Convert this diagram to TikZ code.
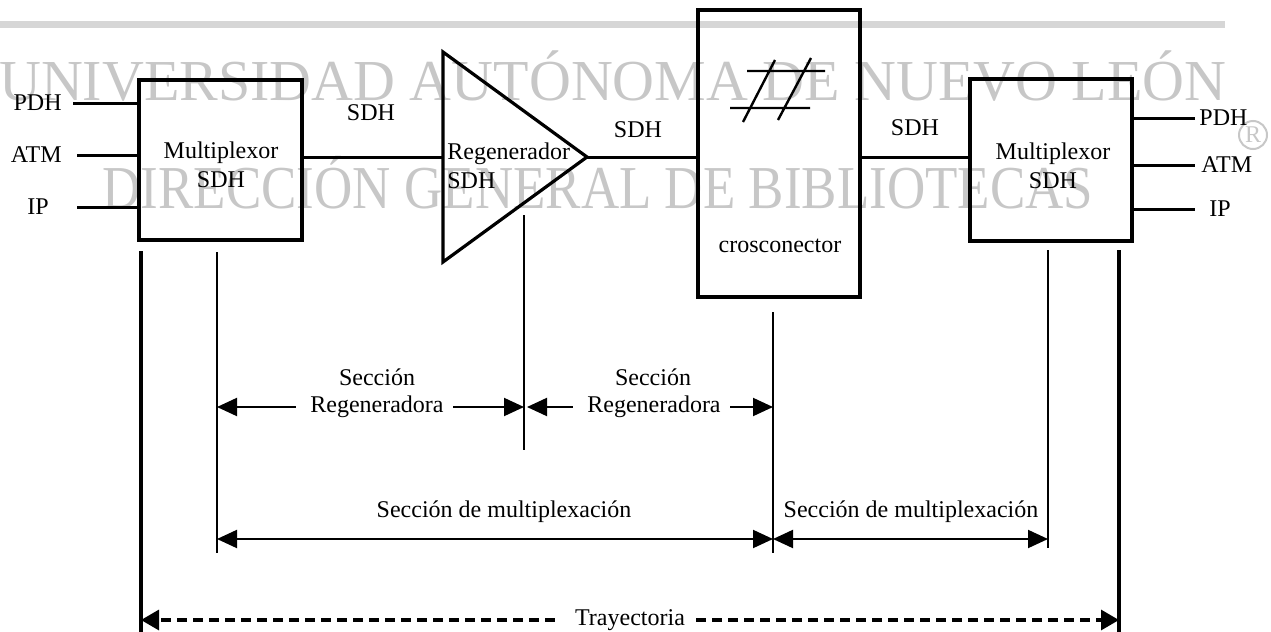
\documentclass[tikz,border=0pt]{standalone}
\usepackage{fontspec}
\setmainfont{Liberation Serif}
\usetikzlibrary{arrows.meta}
\tikzstyle{block}=[draw, line width=1.6pt, inner sep=0pt, align=center, font=\fontsize{12}{14.5}\selectfont]
\tikzstyle{lbl}=[inner sep=1pt, font=\fontsize{12}{14.5}\selectfont]
\tikzstyle{wmark}=[text=black!22, inner sep=0pt, anchor=base]
\tikzstyle{link}=[line width=1.5pt]
\tikzstyle{dimline}=[line width=1.3pt]
\tikzstyle{dimarrow}=[line width=1pt, -{Triangle[length=10pt, width=9pt]}]
\tikzstyle{dimboth}=[line width=1pt, {Triangle[length=10pt, width=9pt]}-{Triangle[length=10pt, width=9pt]}]
\tikzstyle{trayarrow}=[line width=1.6pt, dash pattern=on 5pt off 3pt, -{Triangle[length=9pt, width=10pt]}]

\begin{document}
\begin{tikzpicture}[x=0.5pt, y=-0.5pt]
    \useasboundingbox (0,0) rectangle (1271,632);
    % watermark of the scan
    \fill[black!16] (0,21) rectangle (1225,28);
    \node[wmark, font=\fontsize{29}{30}\selectfont] (wm1) at (613,100) {UNIVERSIDAD AUTÓNOMA DE NUEVO LEÓN};
    \node[wmark, font=\fontsize{26.5}{28}\selectfont] (wm2) at (598,208) {\scalebox{1}[1.15]{DIRECCIÓN GENERAL DE BIBLIOTECAS}};
    \node[circle, draw=black!22, line width=1pt, minimum size=14pt, inner sep=0pt, text=black!22, font=\fontsize{12}{12}\selectfont] (wmr) at (1253,135) {R};

    % equipment
    \node[block, minimum width=81.5pt, minimum height=80pt] (lmux) at (220.5,160) {};
    \node[lbl, align=center] (lmuxt) at (221,165) {Multiplexor\\SDH};
    \node[block, minimum width=81pt, minimum height=81pt] (rmux) at (1051,160) {};
    \node[lbl, align=center] (rmuxt) at (1053,166) {Multiplexor\\SDH};
    \node[block, minimum width=81pt, minimum height=143.5pt] (xconn) at (779,153.5) {};
    \node[lbl] (xlbl) at (780,246) {crosconector};
    \draw[line width=1.2pt] (747,71) -- (825,71) (730,108) -- (810,108) (775,60) -- (743,122) (811,58) -- (778,120);
    \coordinate (rt) at (443,52);
    \coordinate (rb) at (443,262);
    \coordinate (rtip) at (587,157);
    \draw[line width=1.6pt, line join=miter] (rt) -- (rtip) -- (rb) -- cycle;
    \node[lbl, anchor=west, align=left] (regt) at (445,166) {Regenerador\\SDH};

    % tributaries
    \node[lbl, anchor=east] (pdhl) at (64,103) {PDH};
    \node[lbl, anchor=east] (atml) at (64,155) {ATM};
    \node[lbl, anchor=east] (ipl) at (51,207) {IP};
    \node[lbl, anchor=west] (pdhr) at (1197,118) {PDH};
    \node[lbl, anchor=west] (atmr) at (1199,165) {ATM};
    \node[lbl, anchor=west] (ipr) at (1207,209) {IP};
    \draw[link] ([xshift=4.5pt]pdhl.east) -- (pdhl.east -| lmux.west);
    \draw[link] ([xshift=6.5pt]atml.east) -- (atml.east -| lmux.west);
    \draw[link] ([xshift=13pt]ipl.east) -- (ipl.east -| lmux.west);
    \draw[link] (rmux.east |- pdhr) -- ([xshift=-1pt]pdhr.west);
    \draw[link] (rmux.east |- atmr) -- ([xshift=-2pt]atmr.west);
    \draw[link] (rmux.east |- ipr) -- ([xshift=-6pt]ipr.west);

    % SDH line
    \draw[link] (lmux.east |- rtip) -- (rt |- rtip);
    \draw[link] (rtip) -- (xconn.west |- rtip);
    \draw[link] (xconn.east |- rtip) -- (rmux.west |- rtip);
    \node[lbl] (sdh1) at (371,113) {SDH};
    \node[lbl] (sdh2) at (638,130) {SDH};
    \node[lbl] (sdh3) at (915,128) {SDH};

    % sections
    \coordinate (v1t) at (141,251);  \coordinate (v1b) at (141,632);
    \coordinate (v2t) at (217,252);  \coordinate (v2b) at (217,553);
    \coordinate (v3t) at (524,215);  \coordinate (v3b) at (524,450);
    \coordinate (v4t) at (773,312);  \coordinate (v4b) at (773,553);
    \coordinate (v5t) at (1048,250); \coordinate (v5b) at (1048,548);
    \coordinate (v6t) at (1119,250); \coordinate (v6b) at (1119,632);
    \draw[dimline, line width=1.8pt] (v1t) -- (v1b) (v6t) -- (v6b);
    \draw[dimline] (v2t) -- (v2b) (v3t) -- (v3b) (v4t) -- (v4b) (v5t) -- (v5b);

    \node[lbl] (sec1) at (377,377) {Sección};
    \node[lbl] (rg1) at (377,407) {Regeneradora};
    \node[lbl] (sec2) at (653,377) {Sección};
    \node[lbl] (rg2) at (654,407) {Regeneradora};
    \draw[dimarrow] ([xshift=-6pt]rg1.west) -- (v2t |- rg1);
    \draw[dimarrow] ([xshift=3.5pt]rg1.east) -- (v3t |- rg1);
    \draw[dimarrow] ([xshift=-6pt]rg2.west) -- ([xshift=1.5pt]v3t |- rg2);
    \draw[dimarrow] ([xshift=3.5pt]rg2.east) -- (v4t |- rg2);

    \coordinate (rowm) at (0,539);
    \node[lbl] (mx1) at (504,512) {Sección de multiplexación};
    \node[lbl] (mx2) at (911,512) {Sección de multiplexación};
    \draw[dimboth] (v2t |- rowm) -- (v4t |- rowm);
    \draw[dimboth] (v4t |- rowm) -- (v5t |- rowm);

    \node[lbl] (tray) at (630,620) {Trayectoria};
    \draw[trayarrow] ([xshift=-9pt]tray.west) -- (v1t |- tray);
    \draw[trayarrow] ([xshift=4.5pt]tray.east) -- (v6t |- tray);
\end{tikzpicture}
\end{document}
